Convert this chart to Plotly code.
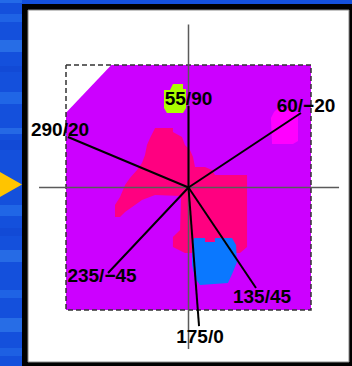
import plotly.graph_objects as go

# ---- regions on the net (x, y in net units, square spans -1..1) ----
field_x = [-0.63, 1.0, 1.0, -1.0, -1.0]
field_y = [1.0, 1.0, -1.0, -1.0, 0.61]

pink_x = [-0.273, -0.127, -0.127, -0.053, -0.029, 0.012, 0.037, 0.053, 0.135, 0.192,
          0.216, 0.478, 0.478, 0.420, -0.029, -0.127, -0.127, -0.069, -0.061, -0.061,
          -0.273, -0.380, -0.437, -0.518, -0.559, -0.600, -0.600, -0.559, -0.518, -0.478,
          -0.420, -0.380, -0.355, -0.339, -0.314]
pink_y = [0.486, 0.486, 0.453, 0.412, 0.347, 0.306, 0.249, 0.167, 0.167, 0.143,
          0.102, 0.102, -0.486, -0.535, -0.535, -0.486, -0.404, -0.347, -0.102, -0.069,
          -0.061, -0.102, -0.143, -0.200, -0.241, -0.241, -0.143, -0.078, 0.020, 0.078,
          0.143, 0.200, 0.265, 0.347, 0.404]

blue_x = [0.045, 0.135, 0.135, 0.216, 0.216, 0.355, 0.388, 0.396, 0.363, 0.322,
          0.094, 0.053, 0.029, 0.029]
blue_y = [-0.412, -0.412, -0.445, -0.445, -0.412, -0.412, -0.469, -0.608, -0.690, -0.780,
          -0.796, -0.739, -0.633, -0.469]

green_x = [-0.127, -0.045, -0.045, -0.020, -0.020, -0.045, -0.176, -0.200, -0.200, -0.151]
green_y = [0.845, 0.845, 0.804, 0.804, 0.649, 0.608, 0.608, 0.649, 0.796, 0.796]

violet_x = [0.731, 0.845, 0.845, 0.894, 0.894, 0.853, 0.682, 0.673, 0.698]
violet_y = [0.649, 0.649, 0.616, 0.616, 0.380, 0.355, 0.355, 0.567, 0.616]

# ---- orientation rays from the centre ----
ray_labels = ["290/20", "55/90", "60/\u221220", "135/45", "175/0", "235/\u221245"]
ray_end_x = [-0.984, 0.0, 0.918, 0.551, 0.086, -0.657]
ray_end_y = [0.412, 0.665, 0.608, -0.820, -1.131, -0.698]
label_x = [-1.049, 0.0, 0.959, 0.600, 0.094, -0.706]
label_y = [0.461, 0.714, 0.657, -0.902, -1.229, -0.731]

X_RANGE = [-1.5388, 1.3347]
Y_RANGE = [-1.4571, 1.5306]

fig = go.Figure()

def region(xs, ys, color):
    fig.add_trace(go.Scatter(
        x=xs + xs[:1], y=ys + ys[:1], mode="lines", fill="toself",
        fillcolor=color, line=dict(width=0, color=color), hoverinfo="skip"))

region(field_x, field_y, "#cc00ff")
region(pink_x, pink_y, "#ff0080")
region(blue_x, blue_y, "#0a78ff")
region(green_x, green_y, "#aaff00")
region(violet_x, violet_y, "#ff00ff")

# dashed outline of the net square
fig.add_trace(go.Scatter(
    x=[-1, 1, 1, -1, -1], y=[1, 1, -1, -1, 1], mode="lines",
    line=dict(color="#333333", width=1.5, dash="5px,3px"), hoverinfo="skip"))

# crosshair
fig.add_trace(go.Scatter(x=[0, 0], y=[1.331, -1.318], mode="lines",
                         line=dict(color="#5a5a5a", width=1.5), hoverinfo="skip"))
fig.add_trace(go.Scatter(x=[-1.220, 1.229], y=[0, 0], mode="lines",
                         line=dict(color="#5a5a5a", width=1.5), hoverinfo="skip"))

# rays
for ex, ey in zip(ray_end_x, ray_end_y):
    fig.add_trace(go.Scatter(x=[0, ex], y=[0, ey], mode="lines",
                             line=dict(color="black", width=2), hoverinfo="skip"))

fig.add_trace(go.Scatter(
    x=label_x, y=label_y, mode="text",
    text=["<b>%s</b>" % t for t in ray_labels],
    textposition="middle center",
    textfont=dict(family="Liberation Sans, Arial, sans-serif", size=19, color="black"),
    hoverinfo="skip"))

W, H = 352, 366

def px(x):
    return x / W

def py(y):
    return 1 - y / H

shapes = []
# soft light streaks in the blue backdrop
for y0, y1, op, col in [(0, 3, 0.35, "#3f9cff"), (14, 22, 0.25, "#3f9cff"),
                        (40, 52, 0.3, "#56b4ff"), (66, 72, 0.2, "#0a30c0"),
                        (92, 104, 0.3, "#3f9cff"), (128, 134, 0.25, "#56b4ff"),
                        (140, 150, 0.2, "#0a30c0"), (205, 216, 0.3, "#3f9cff"),
                        (228, 236, 0.2, "#0a30c0"), (250, 262, 0.28, "#56b4ff"),
                        (290, 298, 0.25, "#3f9cff"), (318, 332, 0.3, "#56b4ff"),
                        (348, 356, 0.22, "#3f9cff")]:
    shapes.append(dict(type="rect", xref="paper", yref="paper", layer="below",
                       x0=0, x1=px(22), y0=py(y1), y1=py(y0),
                       fillcolor=col, opacity=op, line=dict(width=0)))
# pointer arrow
shapes.append(dict(type="path", xref="paper", yref="paper", layer="below",
                   path="M 0 %f L %f %f L 0 %f Z" % (py(172), px(22), py(184.5), py(197)),
                   fillcolor="#ffc400", line=dict(width=0)))
# black frame and white panel
shapes.append(dict(type="rect", xref="paper", yref="paper", layer="below",
                   x0=px(22), x1=1.05, y0=-0.05, y1=py(4),
                   fillcolor="black", line=dict(width=0)))
shapes.append(dict(type="rect", xref="paper", yref="paper", layer="below",
                   x0=px(28), x1=px(349), y0=py(362), y1=py(10),
                   fillcolor="white", line=dict(width=1, color="#8a8a8a")))

fig.update_layout(
    width=W, height=H, margin=dict(l=0, r=0, t=0, b=0),
    paper_bgcolor="#1450dc", plot_bgcolor="rgba(0,0,0,0)",
    showlegend=False, shapes=shapes,
    xaxis=dict(range=X_RANGE, visible=False, fixedrange=True),
    yaxis=dict(range=Y_RANGE, visible=False, fixedrange=True),
)

fig.write_html("out.html")
